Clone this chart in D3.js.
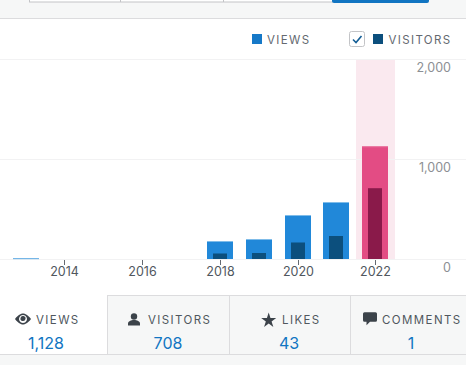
<!DOCTYPE html>
<html><head><meta charset="utf-8">
<script src="https://cdn.jsdelivr.net/npm/d3@7"></script>
<style>html,body{margin:0;padding:0;background:#fff;overflow:hidden}svg{display:block;font-family:Inter,"Open Sans",sans-serif}</style>
</head><body><svg id="c" width="466" height="365"></svg>
<script>
const years=[2013,2014,2015,2016,2017,2018,2019,2020,2021,2022];
const views=[8,0,0,0,0,180,200,440,570,1128];
const visitors=[3,0,0,0,0,55,60,165,230,708];
const yTicks=[0,1000,2000];
const xTicks=[2014,2016,2018,2020,2022];
const tabLabels=["VIEWS","VISITORS","LIKES","COMMENTS"];
const tabValues=["1,128","708","43","1"];
const svg=d3.select("#c");
const x=d3.scaleBand().domain(years).range([6.2,394.6]);
const y=d3.scaleLinear().domain([0,2000]).range([259.5,59.5]);
const blue="#1175c2";
// top strip
svg.append("rect").attr("width",466).attr("height",18).attr("fill","#f6f7f7");
svg.append("rect").attr("y",18).attr("width",466).attr("height",1).attr("fill","#dcdcde");
svg.append("rect").attr("x",29.5).attr("y",-2).attr("width",303).attr("height",4).attr("fill","#fff").attr("stroke","#c3c4c7");
[120.5,223.5].forEach(d=>svg.append("line").attr("x1",d).attr("x2",d).attr("y1",0).attr("y2",2).attr("stroke","#c3c4c7"));
svg.append("rect").attr("x",332).attr("y",-4).attr("width",97).attr("height",7).attr("rx",2).attr("fill","#1175c2");
// highlight
svg.append("rect").attr("x",356).attr("y",59).attr("width",39).attr("height",200.5).attr("fill","#fae9ef");
// grid
svg.append("g").selectAll("line").data(yTicks).join("line").attr("x1",0).attr("x2",466)
 .attr("y1",d=>y(d)).attr("y2",d=>y(d)).attr("stroke","#f2f2f3");
// bars
const barW=26,visW=14;
const g=svg.append("g");
views.forEach((v,i)=>{
  if(!v)return;
  const cx=x(years[i])+x.bandwidth()/2,sel=years[i]===2022;
  const left=Math.round(cx-barW/2);
  const top=y(v)-.5;
  g.append("rect").attr("x",left).attr("y",top).attr("width",barW).attr("height",y(0)-.5-top).attr("fill",sel?"#e34c84":"#2188d9");
  g.append("rect").attr("x",left).attr("y",top).attr("width",barW).attr("height",1).attr("fill",sel?"#ea7fa6":"#7fbce9");
  const w=visitors[i];
  if(i>0) g.append("rect").attr("x",left+(barW-visW)/2).attr("y",y(w)-.5).attr("width",visW).attr("height",y(0)-y(w)).attr("fill",sel?"#8a1a4a":"#0c4f7d");
});
// x axis
const xa=svg.append("g");
xTicks.forEach(t=>{
  const cx=Math.round(x(t)+x.bandwidth()/2)+.5;
  xa.append("line").attr("x1",cx).attr("x2",cx).attr("y1",260).attr("y2",265).attr("stroke","#646970");
  xa.append("text").attr("x",cx).attr("y",276).attr("text-anchor","middle").attr("font-size",12.5).attr("fill","#50575e").text(t);
});
// y axis
svg.append("g").selectAll("text").data(yTicks).join("text").attr("x",451).attr("y",d=>y(d)+12)
 .attr("text-anchor","end").attr("font-size",12.5).attr("fill","#8c8f94").text(d3.format(","));
// legend
const lg=svg.append("g").attr("font-size",11.5).attr("letter-spacing","1.35").attr("fill","#646970");
lg.append("rect").attr("x",252).attr("y",34).attr("width",10).attr("height",10).attr("fill","#1679c8");
lg.append("text").attr("x",267).attr("y",44).text("VIEWS");
lg.append("rect").attr("x",349.5).attr("y",31.5).attr("width",15).attr("height",15).attr("rx",2).attr("fill","#fff").attr("stroke","#c3c4c7");
lg.append("path").attr("d","M353 39.500l3 3 5.500-6.500").attr("fill","none").attr("stroke","#135e96").attr("stroke-width",1.6);
lg.append("rect").attr("x",373).attr("y",34).attr("width",10).attr("height",10).attr("fill","#0c4f7d");
lg.append("text").attr("x",388.5).attr("y",44).text("VISITORS");
// tabs
const edges=[0,107,229,350,466];
const tabX=[36,148,282,382],tabVal=[46,168,289,411];
const tg=svg.append("g");
tg.append("rect").attr("y",354).attr("width",466).attr("height",11).attr("fill","#f6f7f7");
tabLabels.forEach((l,i)=>{
  if(i>0) tg.append("rect").attr("x",edges[i]).attr("y",295).attr("width",edges[i+1]-edges[i]).attr("height",59).attr("fill","#f6f7f7");
  tg.append("text").attr("x",tabX[i]).attr("y",324).attr("font-size",11.5).attr("letter-spacing","1.4").attr("fill","#50575e").text(l);
  tg.append("text").attr("x",tabVal[i]).attr("y",349).attr("text-anchor","middle").attr("font-size",16).attr("fill",blue).text(tabValues[i]);
  if(i>0) tg.append("rect").attr("x",edges[i]).attr("y",295).attr("width",1).attr("height",59).attr("fill","#dcdcde");
});
tg.append("rect").attr("x",107).attr("y",295).attr("width",359).attr("height",1).attr("fill","#dcdcde");
tg.append("rect").attr("y",354).attr("width",466).attr("height",1).attr("fill","#dcdcde");
const ic="#3c434a";
tg.append("path").attr("fill",ic).attr("fill-rule","evenodd").attr("d","M15 319c3-4 6-5.500 8-5.500s5 1.500 8 5.500c-3 4-6 5.500-8 5.500s-5-1.500-8-5.500zM23 315a4 4 0 1 0 .01 0zM20.500 318a2.500 2.500 0 1 1 5 1 2.500 2.500 0 1 1-5-1z");
tg.append("circle").attr("cx",134).attr("cy",316.5).attr("r",3.2).attr("fill",ic);
tg.append("path").attr("fill",ic).attr("d","M128 325.500v-2c0-2 3-3.500 6-3.500s6 1.500 6 3.500v2z");
tg.append("path").attr("fill",ic).attr("d",d3.symbol().type(d3.symbolStar).size(70)()).attr("transform","translate(268.700,320.500)");
tg.append("path").attr("fill",ic).attr("d","M364.500 312.300h11a1.500 1.500 0 0 1 1.500 1.500v6.400a1.500 1.500 0 0 1-1.500 1.500h-5.500l-3.500 3.500v-3.500h-2a1.500 1.500 0 0 1-1.500-1.500v-6.400a1.500 1.500 0 0 1 1.500-1.500z");
</script></body></html>
